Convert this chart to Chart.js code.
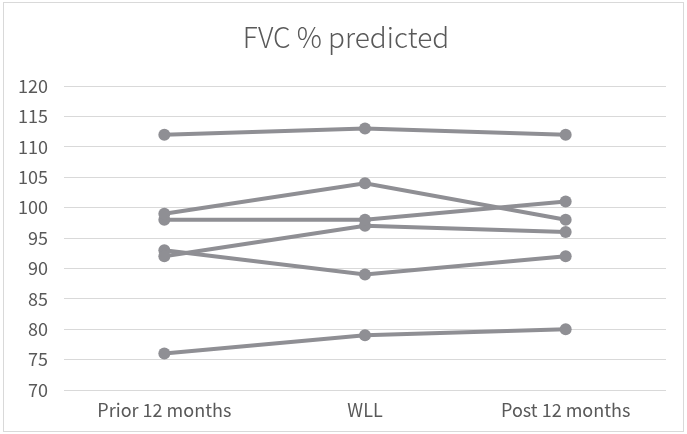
<!DOCTYPE html>
<html>
<head>
<meta charset="utf-8">
<script src="https://cdn.jsdelivr.net/npm/chart.js@4.4.0/dist/chart.umd.min.js"></script>
<style>
  html, body { margin: 0; padding: 0; background: #fff; }
  #wrap { position: relative; width: 687px; height: 434px; }
  #frame { position: absolute; left: 3px; top: 2px; width: 679px; height: 428px; border: 1px solid #d9d9d9; pointer-events: none; }
  canvas { position: absolute; left: 0; top: 0; }
</style>
</head>
<body>
<div id="wrap">
  <canvas id="chart" width="687" height="434"></canvas>
  <div id="frame"></div>
</div>
<script>
const categories = ['Prior 12 months', 'WLL', 'Post 12 months'];
const patient1 = [112, 113, 112];
const patient2 = [99, 104, 98];
const patient3 = [98, 98, 101];
const patient4 = [92, 97, 96];
const patient5 = [93, 89, 92];
const patient6 = [76, 79, 80];
const yMin = 70;
const yMax = 120;
const yStep = 5;
const chartTitle = 'FVC % predicted';

const lineColor = '#8f8f94';
const textColor = '#595959';
const fontFamily = '"Noto Sans CJK SC", "Noto Sans", sans-serif';

function series(values) {
  return {
    data: values,
    borderColor: lineColor,
    backgroundColor: lineColor,
    borderWidth: 4,
    pointRadius: 6,
    pointBorderWidth: 0,
    pointBackgroundColor: lineColor,
    tension: 0,
    fill: false
  };
}

// title sits a bit right of the plot centre in the original, so draw it by hand
const titlePlugin = {
  id: 'titleText',
  afterDraw: function (chart) {
    const ctx = chart.ctx;
    ctx.save();
    ctx.font = '300 28px ' + fontFamily;
    ctx.fillStyle = textColor;
    ctx.textAlign = 'center';
    ctx.textBaseline = 'middle';
    ctx.fillText(chartTitle, 346, 37);
    ctx.restore();
  }
};

new Chart(document.getElementById('chart'), {
  type: 'line',
  data: {
    labels: categories,
    datasets: [patient1, patient2, patient3, patient4, patient5, patient6].map(series)
  },
  options: {
    responsive: false,
    animation: false,
    layout: { padding: { left: 3, right: 21, top: 86, bottom: 0 } },
    plugins: {
      legend: { display: false },
      tooltip: { enabled: false },
      title: { display: false }
    },
    scales: {
      x: {
        offset: true,
        grid: { display: false, drawTicks: false },
        border: { display: false },
        ticks: { color: textColor, font: { family: fontFamily, size: 18 }, padding: 9 },
        afterFit: function (scale) { scale.height = 44; }
      },
      y: {
        min: yMin,
        max: yMax,
        ticks: { stepSize: yStep, color: textColor, font: { family: fontFamily, size: 18 }, padding: 16 },
        grid: { color: '#d9d9d9', lineWidth: 1, drawTicks: false },
        border: { display: false },
        afterFit: function (scale) { scale.width = 61; }
      }
    }
  },
  plugins: [titlePlugin]
});
</script>
</body>
</html>
